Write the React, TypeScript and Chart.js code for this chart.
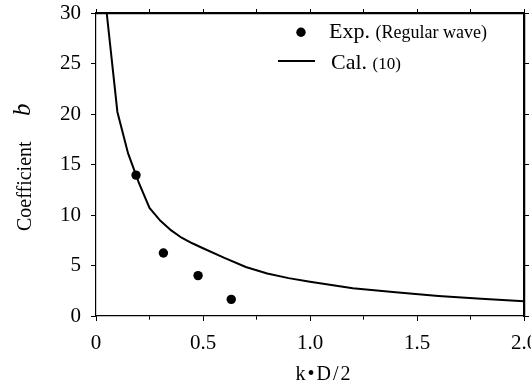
import React, { useEffect, useRef } from 'react';
import { Chart, registerables } from 'chart.js';

Chart.register(...registerables);

// Experimental points (Regular wave)
const expX = [0.187, 0.315, 0.477, 0.632];
const expY = [13.95, 6.24, 4.0, 1.65];

// Calculated curve (10)
const calX = [0.05, 0.1, 0.15, 0.2, 0.25, 0.3, 0.35, 0.4, 0.45, 0.5, 0.6, 0.7, 0.8, 0.9, 1.0, 1.2, 1.4, 1.6, 1.8, 2.0];
const calY = [30, 20.2, 16.1, 13.2, 10.7, 9.45, 8.5, 7.75, 7.2, 6.71, 5.75, 4.85, 4.2, 3.75, 3.4, 2.75, 2.35, 1.98, 1.7, 1.47];

// Axis ticks and labels
const xTickValues = [0, 0.25, 0.5, 0.75, 1, 1.25, 1.5, 1.75, 2];
const xTickLabels = ['0', '', '0.5', '', '1.0', '', '1.5', '', '2.0'];
const yTickValues = [0, 5, 10, 15, 20, 25, 30];
const yTickLabels = ['0', '5', '10', '15', '20', '25', '30'];

const SERIF = '"Liberation Serif", "Times New Roman", serif';

const annotate = {
  id: 'annotate',
  afterDraw(chart: any) {
    const ctx = chart.ctx as CanvasRenderingContext2D;
    const a = chart.chartArea;
    ctx.save();
    ctx.setLineDash([]);
    ctx.fillStyle = '#000';
    ctx.strokeStyle = '#000';

    // Top and right frame lines
    ctx.lineWidth = 1.5;
    ctx.beginPath();
    ctx.moveTo(Math.round(a.left), Math.round(a.top) + 0.5);
    ctx.lineTo(Math.round(a.right) + 1, Math.round(a.top) + 0.5);
    ctx.moveTo(Math.round(a.right) + 0.5, Math.round(a.top));
    ctx.lineTo(Math.round(a.right) + 0.5, Math.round(a.bottom) + 1);
    ctx.stroke();

    // Legend
    const lx = a.left;
    ctx.beginPath();
    ctx.arc(lx + 205, a.top + 19.3, 4.7, 0, Math.PI * 2);
    ctx.fill();
    ctx.textAlign = 'left';
    ctx.textBaseline = 'alphabetic';
    ctx.font = `22px ${SERIF}`;
    ctx.fillText('Exp.', lx + 233, a.top + 24.5);
    let w = ctx.measureText('Exp. ').width;
    ctx.font = `18px ${SERIF}`;
    ctx.fillText('(Regular wave)', lx + 233 + w, a.top + 24.5);

    ctx.lineWidth = 2;
    ctx.beginPath();
    ctx.moveTo(lx + 182, a.top + 48);
    ctx.lineTo(lx + 219, a.top + 48);
    ctx.stroke();
    ctx.font = `22px ${SERIF}`;
    ctx.fillText('Cal.', lx + 235, a.top + 56);
    w = ctx.measureText('Cal. ').width;
    ctx.font = `17px ${SERIF}`;
    ctx.fillText('(10)', lx + 235 + w, a.top + 56);

    // X title
    ctx.font = `20px ${SERIF}`;
    (ctx as any).letterSpacing = '2px';
    ctx.textAlign = 'center';
    ctx.fillText('k\u2022D/2', 324, 380);
    (ctx as any).letterSpacing = '0px';

    // Y title (rotated)
    ctx.translate(31, 231);
    ctx.rotate(-Math.PI / 2);
    ctx.textAlign = 'left';
    ctx.font = `20px ${SERIF}`;
    ctx.fillText('Coefficient', 0, 0);
    ctx.font = `italic 25px ${SERIF}`;
    ctx.fillText('b', 115, -1);
    ctx.restore();
  },
};

export default function App() {
  const ref = useRef<HTMLCanvasElement | null>(null);

  useEffect(() => {
    if (!ref.current) return;
    const tickFont = { family: SERIF, size: 21 };
    const noPad = (s: any) => { s.paddingLeft = 0; s.paddingRight = 0; s.paddingTop = 0; s.paddingBottom = 0; };
    const chart = new Chart(ref.current, {
      type: 'scatter',
      data: {
        datasets: [
          {
            label: 'Exp. (Regular wave)',
            data: expX.map((x, i) => ({ x, y: expY[i] })),
            showLine: false,
            pointRadius: 4.7,
            pointBackgroundColor: '#000',
            pointBorderColor: '#000',
            pointBorderWidth: 0,
          },
          {
            label: 'Cal. (10)',
            data: calX.map((x, i) => ({ x, y: calY[i] })),
            showLine: true,
            borderColor: '#000',
            borderWidth: 2,
            pointRadius: 0,
            tension: 0,
          },
        ],
      },
      options: {
        responsive: false,
        animation: false,
        layout: { padding: 0 },
        plugins: { legend: { display: false }, tooltip: { enabled: false } },
        scales: {
          x: {
            type: 'linear',
            position: 'bottom',
            min: 0,
            max: 2,
            afterFit: (s: any) => { s.height = 71; noPad(s); },
            afterBuildTicks: (s: any) => { s.ticks = xTickValues.map((v) => ({ value: v })); },
            ticks: {
              autoSkip: false,
              maxRotation: 0,
              color: '#000',
              font: tickFont,
              padding: 10,
              callback: (v: any) => xTickLabels[xTickValues.indexOf(Number(v))] ?? '',
            },
            grid: {
              drawOnChartArea: false,
              drawTicks: true,
              tickLength: 5,
              tickColor: '#000',
              tickWidth: 1,
              tickBorderDash: (c: any) => (xTickLabels[xTickValues.indexOf(Number(c.tick?.value))] ? [] : [3.5, 20]),
            },
            border: { display: true, color: '#000', width: 1.2 },
          },
          x2: {
            type: 'linear',
            position: 'top',
            min: 0,
            max: 2,
            afterFit: (s: any) => { s.height = 13; noPad(s); },
            afterBuildTicks: (s: any) => { s.ticks = xTickValues.map((v) => ({ value: v })); },
            ticks: { display: false },
            grid: { drawOnChartArea: false, drawTicks: true, tickLength: 4, tickColor: '#000', tickWidth: 1 },
            border: { display: true, color: '#000', width: 1.2 },
          },
          y: {
            type: 'linear',
            position: 'left',
            min: 0,
            max: 30,
            afterFit: (s: any) => { s.width = 96; noPad(s); },
            afterBuildTicks: (s: any) => { s.ticks = yTickValues.map((v) => ({ value: v })); },
            ticks: {
              color: '#000',
              font: tickFont,
              padding: 10,
              callback: (v: any) => yTickLabels[yTickValues.indexOf(Number(v))] ?? '',
            },
            grid: { drawOnChartArea: false, drawTicks: true, tickLength: 5, tickColor: '#000', tickWidth: 1 },
            border: { display: true, color: '#000', width: 1.2 },
          },
          y2: {
            type: 'linear',
            position: 'right',
            min: 0,
            max: 30,
            afterFit: (s: any) => { s.width = 7; noPad(s); },
            afterBuildTicks: (s: any) => { s.ticks = yTickValues.map((v) => ({ value: v })); },
            ticks: { display: false },
            grid: { drawOnChartArea: false, drawTicks: true, tickLength: 5, tickColor: '#000', tickWidth: 1 },
            border: { display: true, color: '#000', width: 1.2 },
          },
        },
      },
      plugins: [annotate],
    } as any);
    return () => chart.destroy();
  }, []);

  return (
    <div style={{ position: 'absolute', left: 0, top: 0, width: 531, height: 387, background: '#fff' }}>
      <canvas ref={ref} width={531} height={387} style={{ display: 'block' }} />
    </div>
  );
}
